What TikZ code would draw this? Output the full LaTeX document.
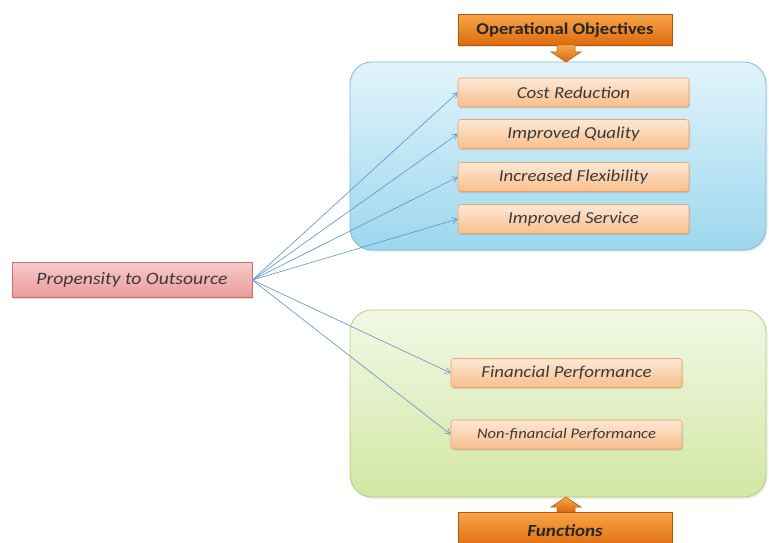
\documentclass[tikz,border=0pt]{standalone}
\usepackage{fontspec}
\setmainfont[FakeStretch=1.13]{Carlito}
\usetikzlibrary{arrows.meta,shadows}
\definecolor{arrowblue}{HTML}{5B8FD0}
\definecolor{orangeD}{HTML}{DC6A0C}
\definecolor{orangeL}{HTML}{F8A548}
\definecolor{blueT}{HTML}{E2F4FB}
\definecolor{blueB}{HTML}{9DD7EE}
\definecolor{blueE}{HTML}{7DBAD6}
\definecolor{greenT}{HTML}{F3F8E6}
\definecolor{greenB}{HTML}{D2E7A4}
\definecolor{greenE}{HTML}{B2CF78}
\definecolor{itemT}{HTML}{FDE8D6}
\definecolor{itemB}{HTML}{F9BE8C}
\definecolor{itemE}{HTML}{F0A466}
\definecolor{srcT}{HTML}{F7CACA}
\definecolor{srcB}{HTML}{EC9A9A}
\definecolor{srcE}{HTML}{D66B6B}
\definecolor{txt}{HTML}{3A3A3A}
\tikzset{
  bigblue/.style={draw=blueE, line width=0.8pt, rounded corners=22pt, top color=blueT, bottom color=blueB, drop shadow={opacity=0.15, shadow xshift=1.5pt, shadow yshift=-2pt}},
  biggreen/.style={draw=greenE, line width=0.8pt, rounded corners=22pt, top color=greenT, bottom color=greenB, drop shadow={opacity=0.15, shadow xshift=1.5pt, shadow yshift=-2pt}},
  itembox/.style={draw=itemE, line width=0.6pt, rounded corners=3pt, top color=itemT, bottom color=itemB, minimum width=231pt, minimum height=29pt, inner sep=0pt, font=\itshape\fontsize{16.7}{18}\selectfont, text=txt, drop shadow={opacity=0.25, shadow xshift=1pt, shadow yshift=-1.5pt}},
  srcbox/.style={draw=srcE, line width=0.6pt, top color=srcT, bottom color=srcB, minimum width=240pt, minimum height=35pt, inner sep=0pt, font=\itshape\fontsize{17.4}{19}\selectfont, text=txt, drop shadow={opacity=0.25, shadow xshift=1pt, shadow yshift=-1.5pt}},
  headbox/.style={draw=orangeD!80!black, line width=0.6pt, top color=orangeL, bottom color=orangeD, minimum width=214pt, minimum height=31pt, inner sep=0pt, text=black!85, drop shadow={opacity=0.2, shadow xshift=1pt, shadow yshift=-1.5pt}},
  blockarrow/.style={draw=orangeD!80!black, line width=0.5pt, top color=orangeL, bottom color=orangeD},
  link/.style={draw=arrowblue, line width=0.6pt, -{Straight Barb[length=5pt,width=6pt]}}
}
\begin{document}
\begin{tikzpicture}[x=1pt,y=-1pt]
\useasboundingbox (0,0) rectangle (769,543);
\clip (0,0) rectangle (769,543);
% big panels
\path[bigblue] (350,62) rectangle (766,250);
\path[biggreen] (350,310) rectangle (766,497);
% header / footer
\node[headbox, font=\bfseries\fontsize{16.5}{18}\selectfont] (ops) at (565,30) {Operational Objectives};
\path[blockarrow] (557,45) -- (557,52) -- (551,52) -- (566,62) -- (581,52) -- (575,52) -- (575,45) -- cycle;
\node[headbox, minimum height=36pt, font=\bfseries\itshape\fontsize{16.9}{18}\selectfont, anchor=north] (fun) at (565,512) {\raisebox{-3pt}{Functions}};
\path[blockarrow] (557,512) -- (557,507) -- (551,507) -- (566,497) -- (581,507) -- (575,507) -- (575,512) -- cycle;
% source
\node[srcbox] (src) at (132,280) {Propensity to Outsource};
% items
\node[itembox] (cost) at (573.5,92.5) {Cost Reduction};
\node[itembox] (qual) at (573.5,134) {Improved Quality};
\node[itembox] (flex) at (573.5,177) {Increased Flexibility};
\node[itembox] (serv) at (573.5,219) {Improved Service};
\node[itembox] (fin) at (566.5,373) {Financial Performance};
\node[itembox, font=\itshape\fontsize{14.6}{16}\selectfont] (nonfin) at (566.5,434.5) {Non-financial Performance};
% links
\foreach \t in {cost,qual,flex,serv,fin,nonfin}
  \draw[link] (src.east) -- (\t.west);
\end{tikzpicture}
\end{document}
